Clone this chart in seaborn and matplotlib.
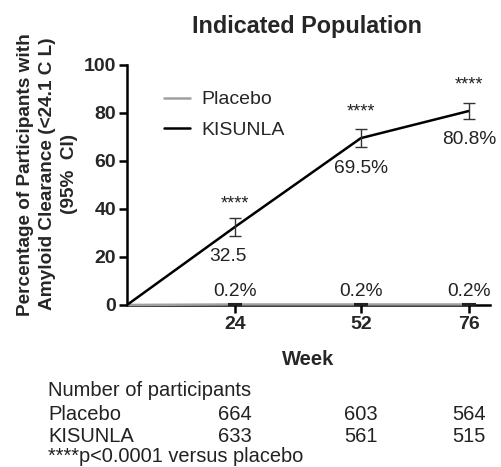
import matplotlib
matplotlib.use("Agg")
import matplotlib.pyplot as plt
import seaborn as sns
import pandas as pd
from matplotlib.lines import Line2D

weeks = [0, 24, 52, 76]
placebo = [0, 0.2, 0.2, 0.2]
placebo_lo = [0, 0.0, 0.0, 0.0]
placebo_hi = [0, 0.6, 0.6, 0.6]
kisunla = [0, 32.5, 69.5, 80.8]
kisunla_lo = [0, 28.8, 66.0, 77.3]
kisunla_hi = [0, 36.2, 73.2, 84.2]
kisunla_labels = ["", "32.5", "69.5%", "80.8%"]
placebo_labels = ["", "0.2%", "0.2%", "0.2%"]
tick_weeks = [24, 52, 76]
n_placebo = [664, 603, 564]
n_kisunla = [633, 561, 515]

sns.set_theme(style="white")
plt.rcParams['font.family'] = ['Liberation Sans', 'DejaVu Sans']

fig = plt.figure(figsize=(5.02, 4.67), dpi=100)
ax = fig.add_axes([0.253, 0.347, 0.723, 0.514])

df = pd.DataFrame({
    "Week": weeks * 2,
    "Value": placebo + kisunla,
    "Group": ["Placebo"] * 4 + ["KISUNLA"] * 4,
})
sns.lineplot(data=df, x="Week", y="Value", hue="Group",
             palette={"Placebo": "#a0a0a0", "KISUNLA": "#000000"},
             linewidth=1.8, ax=ax, legend=False, zorder=3, clip_on=False)

# error bars
ax.errorbar(weeks[1:], kisunla[1:],
            yerr=[[k - l for k, l in zip(kisunla[1:], kisunla_lo[1:])],
                  [h - k for k, h in zip(kisunla[1:], kisunla_hi[1:])]],
            fmt="none", ecolor="#333333", elinewidth=1.0, capsize=4, capthick=1.0, zorder=4)
ax.errorbar(weeks[1:], placebo[1:],
            yerr=[[p - l for p, l in zip(placebo[1:], placebo_lo[1:])],
                  [h - p for p, h in zip(placebo[1:], placebo_hi[1:])]],
            fmt="none", ecolor="#222222", elinewidth=1.5, capsize=5, capthick=1.5, zorder=4,
            clip_on=False)

# annotations
kis_dy = [None, -12.5, -12.5, -12]
kis_dx = [None, -1.6, 0, 0]
for w, v, lab, dy, dx in zip(weeks, kisunla, kisunla_labels, kis_dy, kis_dx):
    if lab:
        ax.text(w + dx, v + dy, lab, ha="center", va="center", fontsize=13.8, color="#222222")
star_y = [None, 42, 80.5, 91.5]
for w, sy in zip(weeks, star_y):
    if sy is not None:
        ax.text(w, sy, "****", ha="center", va="center", fontsize=13, color="#222222")
for w, v, lab in zip(weeks, placebo, placebo_labels):
    if lab:
        ax.text(w, v + 5.2, lab, ha="center", va="center", fontsize=13.8, color="#222222")

ax.set_xlim(0, 80.7)
ax.set_ylim(0, 100)
ax.set_xticks(tick_weeks)
ax.set_xticklabels([str(t) for t in tick_weeks], fontweight="bold", fontsize=14)
ax.set_yticks([0, 20, 40, 60, 80, 100])
ax.set_yticklabels(["0", "20", "40", "60", "80", "100"], fontweight="bold", fontsize=14)
for s in ["top", "right"]:
    ax.spines[s].set_visible(False)
for s in ["left", "bottom"]:
    ax.spines[s].set_color("black")
    ax.spines[s].set_linewidth(1.8)
ax.tick_params(axis="both", which="major", direction="out", length=6, width=1.8,
               color="black", pad=2, bottom=True, left=True)

ax.set_xlabel("Week", fontweight="bold", fontsize=14.5, labelpad=12)
ax.set_ylabel("Percentage of Participants with\nAmyloid Clearance (<24.1 C L)\n(95%  CI)",
              fontweight="bold", fontsize=13.7, linespacing=1.38, labelpad=4)
ax.yaxis.label.set_y(0.545)
ax.set_title("Indicated Population", fontweight="bold", fontsize=16.8, pad=23, x=0.497)

# legend (manual)
handles = [Line2D([0], [0], color="#a0a0a0", lw=1.8), Line2D([0], [0], color="black", lw=1.8)]
leg = ax.legend(handles, ["Placebo", "KISUNLA"], loc="upper left",
                bbox_to_anchor=(0.055, 0.965), frameon=False, fontsize=14,
                handlelength=1.3, handletextpad=0.6, labelspacing=0.65)

# participant table
rows_y = [391, 414, 436, 457]
fig.text(48 / 502, 1 - rows_y[0] / 467, "Number of participants", fontsize=14.5, va="center", ha="left", color="#222222")
fig.text(48 / 502, 1 - rows_y[1] / 467, "Placebo", fontsize=14.5, va="center", ha="left", color="#222222")
fig.text(48 / 502, 1 - rows_y[2] / 467, "KISUNLA", fontsize=14.5, va="center", ha="left", color="#222222")
fig.text(48 / 502, 1 - rows_y[3] / 467, "****p<0.0001 versus placebo", fontsize=14.4, va="center", ha="left", color="#222222")
for w, npb, nk in zip(tick_weeks, n_placebo, n_kisunla):
    xf = ax.transData.transform((w, 0))[0] / fig.bbox.width
    fig.text(xf, 1 - rows_y[1] / 467, str(npb), fontsize=14.5, va="center", ha="center", color="#222222")
    fig.text(xf, 1 - rows_y[2] / 467, str(nk), fontsize=14.5, va="center", ha="center", color="#222222")

fig.savefig("out.png", dpi=100)
